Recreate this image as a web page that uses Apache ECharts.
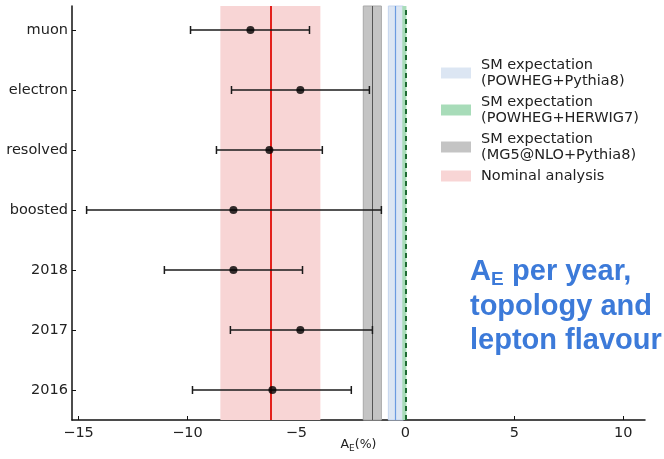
<!DOCTYPE html>
<html><head><meta charset="utf-8">
<script src="https://cdn.jsdelivr.net/npm/echarts@6/dist/echarts.min.js"></script>
<style>html,body{margin:0;padding:0;background:#fff}#c{width:664px;height:459px}</style>
</head><body><div id="c"></div>
<script>
// Categories (bottom to top)
const categories = ['2016', '2017', '2018', 'boosted', 'resolved', 'electron', 'muon'];
const centralValues = [-6.10, -4.82, -7.89, -7.89, -6.24, -4.82, -7.11];
const errLow = [-9.77, -8.03, -11.06, -14.63, -8.67, -7.98, -9.86];
const errHigh = [-2.48, -1.51, -4.72, -1.10, -3.81, -1.65, -4.40];
const xTicks = [-15, -10, -5, 0, 5, 10];
// bands: [low, center, high]
const nominalBand = [-8.49, -6.19, -3.90];
const mg5Band = [-1.93, -1.51, -1.10];
const powhegPythiaBand = [-0.78, -0.46, -0.09];
const powhegHerwigBand = [-0.14, 0.0, 0.05];
const legendNames = ['SM expectation\n(POWHEG+Pythia8)', 'SM expectation\n(POWHEG+HERWIG7)', 'SM expectation\n(MG5@NLO+Pythia8)', 'Nominal analysis'];

const chart = echarts.init(document.getElementById('c'), null, {renderer: 'canvas'});
const FONT = 'DejaVu Sans';
const BLUE_TXT = '#3c7ad9';

function bandSeries(name, band, fill, border, lineStyle, z) {
  return {
    name: name, type: 'line', data: [], z: z,
    color: fill, itemStyle: {color: fill},
    markArea: {silent: true, itemStyle: {color: fill, borderColor: border, borderWidth: border ? 1 : 0},
      data: [[{xAxis: band[0]}, {xAxis: band[2]}]]},
    markLine: {silent: true, symbol: 'none', label: {show: false}, animation: false,
      lineStyle: lineStyle, data: [{xAxis: band[1]}]}
  };
}

const errData = categories.map((c, i) => [errLow[i], errHigh[i], i]);
const ptData = categories.map((c, i) => [centralValues[i], i]);

chart.setOption({
  animation: false,
  grid: {left: 72, right: 19, top: 6, bottom: 39, outerBoundsMode: 'none', containLabel: false},
  xAxis: {
    type: 'value', min: -15.3, max: 11,
    axisLine: {onZero: false, lineStyle: {color: '#111', width: 1.5}},
    axisTick: {inside: true, length: 4, lineStyle: {color: '#111'}, customValues: xTicks},
    axisLabel: {customValues: xTicks, color: '#222', fontFamily: FONT, fontSize: 14.5, margin: 6,
      formatter: v => String(v).replace('-', '\u2212')},
    splitLine: {show: false},
    name: '{a|A}{s|E}{a|(%)}', nameLocation: 'middle', nameGap: 17, nameMoveOverlap: false,
    nameTextStyle: {rich: {
      a: {fontFamily: FONT, fontSize: 12.5, color: '#222', lineHeight: 16, verticalAlign: 'middle'},
      s: {fontFamily: FONT, fontSize: 9, color: '#222', lineHeight: 16, verticalAlign: 'bottom', padding: [8, 0, 0, 0]}
    }}
  },
  yAxis: {
    type: 'value', min: -0.5, max: 6.4,
    axisLine: {show: true, onZero: false, lineStyle: {color: '#111', width: 1.5}},
    axisTick: {show: true, inside: true, length: 4, lineStyle: {color: '#111'}, customValues: [0,1,2,3,4,5,6]},
    axisLabel: {customValues: [0,1,2,3,4,5,6], color: '#222', fontFamily: FONT, fontSize: 14.5, margin: 4,
      formatter: v => categories[Math.round(v)]},
    splitLine: {show: false}
  },
  legend: {
    orient: 'vertical', left: 441, top: 57, padding: 0, icon: 'rect', itemWidth: 30, itemHeight: 11, itemGap: 5,
    data: legendNames,
    textStyle: {fontFamily: FONT, fontSize: 14.5, lineHeight: 16, color: '#222', padding: [0, 0, 0, 5]}
  },
  series: [
    bandSeries(legendNames[3], nominalBand, '#f8d5d5', null, {color: '#e3201b', width: 2, type: 'solid'}, 1),
    bandSeries(legendNames[2], mg5Band, '#c4c4c4', '#a9a9a9', {color: '#555', width: 1, type: 'solid'}, 2),
    bandSeries(legendNames[0], powhegPythiaBand, '#dce6f3', '#c3d4ee', {color: '#6b9be0', width: 1.2, type: 'solid'}, 3),
    bandSeries(legendNames[1], powhegHerwigBand, '#a8dcb9', null, {color: '#1d6a33', width: 2, type: [5, 4]}, 4),
    {
      type: 'custom', z: 10, data: errData, encode: {x: [0, 1], y: 2},
      renderItem: function (params, api) {
        const y = api.value(2);
        const p1 = api.coord([api.value(0), y]);
        const p2 = api.coord([api.value(1), y]);
        const cap = 4;
        const st = {stroke: '#1a1a1a', lineWidth: 1.5};
        return {type: 'group', children: [
          {type: 'line', shape: {x1: p1[0], y1: p1[1], x2: p2[0], y2: p2[1]}, style: st},
          {type: 'line', shape: {x1: p1[0], y1: p1[1] - cap, x2: p1[0], y2: p1[1] + cap}, style: st},
          {type: 'line', shape: {x1: p2[0], y1: p2[1] - cap, x2: p2[0], y2: p2[1] + cap}, style: st}
        ]};
      }
    },
    {type: 'scatter', z: 11, data: ptData, symbolSize: 8, itemStyle: {color: '#000'}}
  ],
  graphic: [
    {type: 'text', left: 470, top: 257, style: {text: 'A', fill: BLUE_TXT, font: 'bold 29px "Liberation Sans", Arial'}},
    {type: 'text', left: 491, top: 270, style: {text: 'E', fill: BLUE_TXT, font: 'bold 19px "Liberation Sans", Arial'}},
    {type: 'text', left: 504, top: 257, style: {text: ' per year,', fill: BLUE_TXT, font: 'bold 29px "Liberation Sans", Arial'}},
    {type: 'text', left: 470, top: 292, style: {text: 'topology and', fill: BLUE_TXT, font: 'bold 29px "Liberation Sans", Arial'}},
    {type: 'text', left: 470, top: 326, style: {text: 'lepton flavour', fill: BLUE_TXT, font: 'bold 29px "Liberation Sans", Arial'}}
  ]
});
</script></body></html>
